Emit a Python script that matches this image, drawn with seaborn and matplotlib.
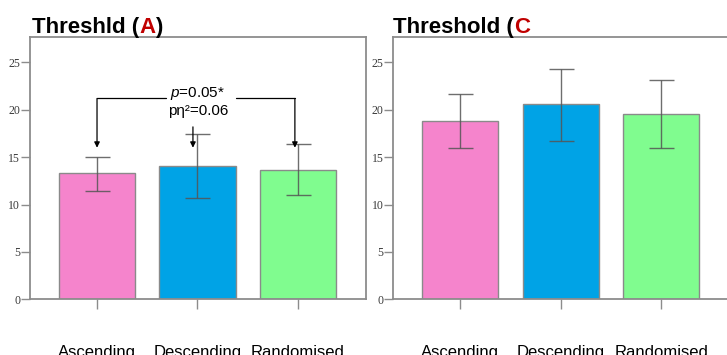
import numpy as np
import matplotlib.pyplot as plt
import seaborn as sns

sns.set_style('white')
plt.rcParams['font.family'] = ['Liberation Sans', 'DejaVu Sans']
plt.rcParams['text.color'] = 'black'
plt.rcParams['mathtext.fontset'] = 'custom'
plt.rcParams['mathtext.it'] = 'Liberation Sans:italic'
plt.rcParams['mathtext.rm'] = 'Liberation Sans'

# Data
conditions = ['Ascending', 'Descending', 'Randomised']
colours = ['#F584CC', '#00A3E6', '#80FC8F']

# panel A
mean_a = [13.3, 14.1, 13.7]
low_a = [11.4, 10.7, 11.0]
high_a = [15.0, 17.4, 16.4]

# panel C
mean_c = [18.8, 20.6, 19.6]
low_c = [16.0, 16.7, 16.0]
high_c = [21.7, 24.3, 23.2]

frame_col = '#8c8c8c'

fig = plt.figure(figsize=(7.27, 3.55), dpi=100)
ax_a = fig.add_axes([0.0413, 0.157, 0.462, 0.739])
ax_c = fig.add_axes([0.541, 0.157, 0.462, 0.739])


def draw_panel(ax, means, lows, highs):
	sns.barplot(x=conditions, y=means, hue=conditions, palette=colours, legend=False,
		errorbar=None, width=0.76, edgecolor='#8a8a8a', linewidth=1, saturation=1, ax=ax)
	m = np.array(means)
	yerr = [m - np.array(lows), np.array(highs) - m]
	ax.errorbar(np.arange(len(conditions)), m, yerr=yerr, fmt='none', ecolor='#555555',
		elinewidth=1, capsize=9, capthick=1, alpha=0.85)
	ax.set_xlim(-0.667, 2.677)
	ax.set_ylim(0, 27.7)
	ax.set_yticks([0, 5, 10, 15, 20, 25])
	for sp in ax.spines.values():
		sp.set_visible(True)
		sp.set_color(frame_col)
		sp.set_linewidth(1.3)
	ax.tick_params(axis='y', direction='out', length=6.5, width=1, color=frame_col, pad=0.5,
		labelsize=8.5, labelcolor='#3a3a3a', left=True)
	ax.tick_params(axis='x', direction='out', length=7, width=1, color=frame_col, pad=26,
		labelsize=12, labelcolor='black', bottom=True)
	for lab in ax.get_yticklabels():
		lab.set_fontfamily('Liberation Serif')
	ax.set_xlabel('')
	ax.set_ylabel('')


draw_panel(ax_a, mean_a, low_a, high_a)
draw_panel(ax_c, mean_c, low_c, high_c)

# titles with coloured letter
t1 = fig.text(32 / 727, 1 - 38 / 355, 'Threshld (', fontsize=16, fontweight='bold', color='black', va='bottom')
t2 = ax_a.annotate('A', xy=(1, 0), xycoords=t1, fontsize=16, fontweight='bold', color='#C00000', va='bottom')
ax_a.annotate(')', xy=(1, 0), xycoords=t2, fontsize=16, fontweight='bold', color='black', va='bottom')
t3 = fig.text(393 / 727, 1 - 38 / 355, 'Threshold (', fontsize=16, fontweight='bold', color='black', va='bottom')
ax_c.annotate('C', xy=(1, 0), xycoords=t3, fontsize=16, fontweight='bold', color='#C00000', va='bottom')

# significance bracket on panel A
br_y = 21.2
ax_a.plot([0, 0.687], [br_y, br_y], color='black', lw=0.9)
ax_a.plot([1.383, 1.97], [br_y, br_y], color='black', lw=0.9)
arrow = dict(arrowstyle='-|>', color='black', lw=0.9, mutation_scale=8, shrinkA=0, shrinkB=0)
ax_a.annotate('', xy=(0, 16.0), xytext=(0, br_y), arrowprops=arrow)
ax_a.annotate('', xy=(1.97, 16.0), xytext=(1.97, br_y), arrowprops=arrow)
ax_a.annotate('', xy=(0.955, 16.0), xytext=(0.955, 18.2), arrowprops=arrow)
ax_a.text(1.005, 21.7, '$p$=0.05*', ha='center', va='center', fontsize=11, color='black')
ax_a.text(1.01, 19.9, 'p\u03b7\u00b2=0.06', ha='center', va='center', fontsize=11, color='black')

fig.savefig('out.png', dpi=100)
